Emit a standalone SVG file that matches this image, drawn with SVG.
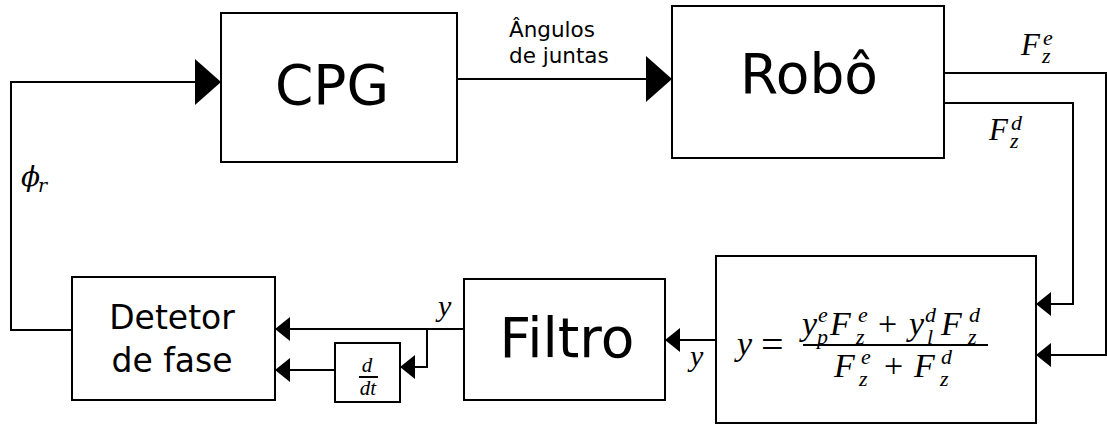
<svg xmlns="http://www.w3.org/2000/svg" width="1107" height="425" viewBox="0 0 1107 425">
<style>
.box{fill:#fff;stroke:#000;stroke-width:2}
.ln{fill:none;stroke:#000;stroke-width:2}
.sans{font-family:"DejaVu Sans",sans-serif;fill:#000}
.m{font-family:"Liberation Serif","DejaVu Serif",serif;font-style:italic;fill:#000}
.mr{font-family:"Liberation Serif","DejaVu Serif",serif;font-style:normal;fill:#000}
.s{font-size:22px}
</style>
<defs>
<marker id="big" markerUnits="userSpaceOnUse" markerWidth="27" markerHeight="48" refX="26" refY="24" orient="auto" viewBox="0 0 27 48">
<path d="M0,1 L26,24 L0,47 z" fill="#000"/>
</marker>
<marker id="sm" markerUnits="userSpaceOnUse" markerWidth="16" markerHeight="26" refX="15" refY="13" orient="auto" viewBox="0 0 16 26">
<path d="M0,1 L15,13 L0,25 z" fill="#000"/>
</marker>
</defs>
<rect width="1107" height="425" fill="#fff"/>
<g id="connectors">
<path class="ln" d="M72,330 H11 V82 H221" marker-end="url(#big)"/>
<path class="ln" d="M457,79 H672" marker-end="url(#big)"/>
<path class="ln" d="M944,73 H1106 V355 H1036" marker-end="url(#sm)"/>
<path class="ln" d="M944,103 H1073 V304 H1036" marker-end="url(#sm)"/>
<path class="ln" d="M716,340 H665" marker-end="url(#sm)"/>
<path class="ln" d="M464,329 H275" marker-end="url(#sm)"/>
<path class="ln" d="M427,329 V367 H400" marker-end="url(#sm)"/>
<path class="ln" d="M335,370 H275" marker-end="url(#sm)"/>
</g>
<g id="labels">
<text class="sans" x="509" y="37" font-size="21.5">Ângulos</text>
<text class="sans" x="509" y="63" font-size="21.5">de juntas</text>
<text class="m" font-size="31"><tspan x="1021" y="55">F</tspan><tspan class="s" x="1043" y="45">e</tspan><tspan class="s" x="1042" y="63">z</tspan></text>
<text class="m" font-size="31"><tspan x="989" y="140">F</tspan><tspan class="s" x="1011" y="130">d</tspan><tspan class="s" x="1010" y="148">z</tspan></text>
<text class="m" font-size="28" style="font-family:'DejaVu Serif',serif"><tspan x="21" y="186">ϕ</tspan><tspan font-size="19" x="38" y="192">r</tspan></text>
<text class="m" x="438" y="316" font-size="30">y</text>
<text class="m" x="690" y="366" font-size="30">y</text>
</g>
<g id="cpg">
<rect class="box" x="221" y="13" width="236" height="149"/>
<text class="sans" x="332" y="104" font-size="55" text-anchor="middle">CPG</text>
</g>
<g id="robo">
<rect class="box" x="672" y="6" width="272" height="152"/>
<text class="sans" x="809" y="93" font-size="55" text-anchor="middle">Robô</text>
</g>
<g id="formula">
<rect class="box" x="716" y="256" width="320" height="167"/>
<text class="m" font-size="34"><tspan x="737" y="355">y</tspan><tspan class="mr" font-size="40" x="761" y="358">=</tspan></text>
<text class="m" font-size="34"><tspan x="802" y="335">y</tspan><tspan class="s" x="818" y="322">e</tspan><tspan class="s" x="817" y="344">p</tspan><tspan x="830" y="335">F</tspan><tspan class="s" x="858" y="322">e</tspan><tspan class="s" x="856" y="344">z</tspan><tspan class="mr" x="878" y="335">+</tspan><tspan x="909" y="335">y</tspan><tspan class="s" x="925" y="322">d</tspan><tspan class="s" x="927" y="344">l</tspan><tspan x="941" y="335">F</tspan><tspan class="s" x="969" y="322">d</tspan><tspan class="s" x="968" y="344">z</tspan></text>
<line class="ln" x1="803" y1="345" x2="988" y2="345" stroke-width="1.5"/>
<text class="m" font-size="34"><tspan x="834" y="377">F</tspan><tspan class="s" x="861" y="364">e</tspan><tspan class="s" x="859" y="386">z</tspan><tspan class="mr" x="884" y="377">+</tspan><tspan x="914" y="377">F</tspan><tspan class="s" x="941" y="364">d</tspan><tspan class="s" x="940" y="386">z</tspan></text>
</g>
<g id="filtro">
<rect class="box" x="464" y="279" width="201" height="121"/>
<text class="sans" x="567" y="357" font-size="55" text-anchor="middle">Filtro</text>
</g>
<g id="ddt">
<rect class="box" x="335" y="343" width="65" height="59"/>
<text class="m" x="367" y="372" font-size="21" text-anchor="middle">d</text>
<line class="ln" x1="359" y1="377" x2="378" y2="377" stroke-width="1.2"/>
<text class="m" x="368" y="395" font-size="21" text-anchor="middle">dt</text>
</g>
<g id="detetor">
<rect class="box" x="72" y="277" width="203" height="123"/>
<text class="sans" x="172" y="329" font-size="33" text-anchor="middle">Detetor</text>
<text class="sans" x="172" y="372" font-size="33" text-anchor="middle">de fase</text>
</g>
</svg>
